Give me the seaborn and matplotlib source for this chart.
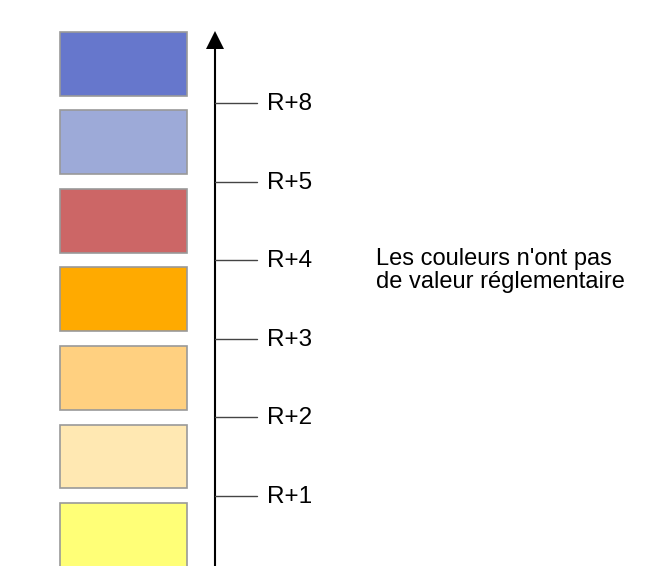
"""
Échelle des niveaux R+n : pavés de couleur et axe vertical gradué.
"""

import matplotlib
matplotlib.use("Agg")
import matplotlib.pyplot as plt
import seaborn as sns

# Données
bar_names = ["bleu", "bleu clair", "rouge", "orange", "orange clair", "crème", "jaune"]
bar_colors = ["#6677CC", "#9DAAD8", "#CC6666", "#FFAA00", "#FFD080", "#FFE8B2", "#FFFF77"]
bar_widths = [1, 1, 1, 1, 1, 1, 1]
tick_labels = ["R+8", "R+5", "R+4", "R+3", "R+2", "R+1"]
note = "Les couleurs n'ont pas\nde valeur réglementaire"

sns.set_theme(style="white")
plt.rcParams["font.family"] = ["Liberation Sans", "DejaVu Sans"]

fig = plt.figure(figsize=(6.69, 5.66), dpi=100)
ax = fig.add_axes([0, 0, 1, 1])

sns.barplot(x=bar_widths, y=bar_names, hue=bar_names, palette=bar_colors,
            orient="h", legend=False, width=0.815, saturation=1,
            edgecolor="#999999", linewidth=1.2, ax=ax)

# cadrage : 0 -> bord gauche des pavés, 1 -> bord droit
ax.set_xlim(-0.472, 4.795)
ax.set_ylim(6.395, -0.815)
ax.axis("off")

axis_x = 1.2205
tick_end = 1.551
label_x = 1.63

# axe vertical avec flèche
ax.plot([axis_x, axis_x], [6.5, -0.19], color="black", lw=1.5, solid_capstyle="butt")
ax.plot([axis_x], [-0.30], marker="^", color="black", ms=13, mew=0)

# graduations entre les pavés
for i, lab in enumerate(tick_labels):
    y = i + 0.5
    ax.plot([axis_x, tick_end], [y, y], color="#444444", lw=1.0)
    ax.text(label_x, y + 0.01, lab, ha="left", va="center", fontsize=17.5, color="black")

ax.text(2.49, 2.63, note, ha="left", va="center", fontsize=17,
        linespacing=1.05, color="black")

fig.savefig("out.png", dpi=100)
plt.close(fig)
